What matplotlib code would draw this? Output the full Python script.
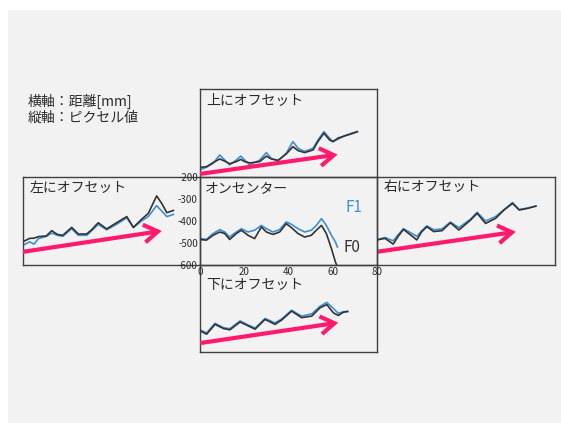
import matplotlib
matplotlib.use("Agg")
import matplotlib.pyplot as plt
from matplotlib.patches import Rectangle, FancyArrowPatch
import numpy as np

plt.rcParams['font.family'] = ['Noto Sans CJK JP', 'DejaVu Sans']
plt.rcParams['axes.unicode_minus'] = False

# ---------------- data ----------------
x_ticks = [0, 20, 40, 60, 80]
y_ticks = [-200, -300, -400, -500, -600]

# 上にオフセット
top_x = [0.6, 2.9, 5.9, 8.9, 11.2, 13.4, 16.4, 18.4, 20.2, 22.5, 27, 30, 32.2, 35.3, 39, 42, 44.3, 47.3, 51.1, 53.3, 56, 58.6, 60.1, 62.4, 65.4, 68.4, 71.1]
top_f1 = [-565, -556, -538, -500, -523, -545, -523, -505, -523, -545, -523, -489, -515, -527, -492, -439, -469, -484, -469, -432, -394, -424, -439, -428, -413, -401, -394]
top_f0 = [-556, -553, -535, -518, -528, -540, -530, -520, -530, -536, -530, -505, -518, -524, -495, -462, -480, -489, -477, -439, -401, -432, -439, -423, -413, -404, -394]

# 左にオフセット
left_x = [0, 3, 5, 7, 10.5, 13, 15.5, 18, 22, 25, 28.8, 31, 34, 37.8, 42.3, 46.9, 49.9, 53.6, 56.6, 60.4, 62.7, 65, 68]
left_f0 = [-494, -479, -478, -471, -468, -444, -461, -465, -429, -459, -459, -440, -408, -436, -408, -380, -429, -392, -366, -286, -320, -362, -352]
left_f1 = [-510, -495, -505, -480, -470, -455, -465, -470, -435, -465, -465, -445, -415, -440, -415, -385, -430, -400, -380, -330, -355, -380, -370]

# 右にオフセット
right_x = [0, 3.6, 7.3, 9.5, 11.9, 14.9, 17.9, 20, 22.4, 25.5, 29.2, 33, 36.8, 42, 45, 48.8, 53.3, 57.1, 60.9, 63.9, 67.6, 71.4]
right_f0 = [-486, -479, -505, -470, -438, -462, -486, -450, -426, -448, -444, -408, -441, -396, -365, -411, -388, -350, -320, -350, -343, -332]
right_f1 = [-485, -475, -490, -462, -435, -452, -470, -445, -422, -440, -436, -405, -430, -392, -360, -400, -380, -348, -316, -348, -341, -333]

# 下にオフセット
bottom_x = [0, 3, 6.8, 10.6, 13.5, 18.1, 21.8, 24.9, 29.4, 33.9, 36.9, 41.4, 45.9, 50.5, 54.2, 57.3, 60.3, 62.5, 64.8, 66.7]
bottom_f0 = [-503, -518, -473, -492, -498, -462, -480, -495, -450, -473, -453, -412, -442, -435, -397, -382, -420, -432, -417, -414]
bottom_f1 = [-498, -512, -468, -488, -493, -457, -476, -490, -446, -466, -448, -408, -435, -425, -390, -372, -400, -422, -415, -413]

# オンセンター
center_x = [0, 2.9, 5.9, 8.9, 11.2, 13.4, 16.4, 18.7, 21.7, 24.7, 27.7, 30, 33, 36, 39, 41.3, 44.3, 47.3, 50.3, 52.6, 54.9, 57.1, 59.4, 61.2, 62.1]
center_f1 = [-479, -484, -457, -439, -450, -473, -450, -435, -450, -442, -420, -435, -450, -439, -404, -415, -435, -450, -442, -420, -389, -420, -465, -495, -518]
center_f0 = [-484, -487, -465, -450, -457, -484, -457, -442, -465, -480, -427, -450, -461, -450, -412, -430, -457, -473, -465, -442, -420, -457, -525, -586, -609]

# arrows (start, tip) in data units
top_arrow = [(0, -586), (62.2, -498)]
left_arrow = [(0, -540), (62.7, -445)]
right_arrow = [(0, -540), (62.4, -449)]
bottom_arrow = [(0, -559), (62.5, -465)]

titles = {'top': '上にオフセット', 'left': '左にオフセット', 'center': 'オンセンター',
          'right': '右にオフセット', 'bottom': '下にオフセット'}
note_lines = ['横軸：距離[mm]', '縦軸：ピクセル値']

# ---------------- style ----------------
W, H = 561, 423
BLUE = '#3d8fd4'
BLACK = '#333333'
PINK = '#ff1a6e'
EDGE = '#404040'
TXT = '#2a2a2a'

fig = plt.figure(figsize=(W / 100, H / 100), dpi=100)
fig.patch.set_facecolor('white')
fig.add_artist(Rectangle((8 / W, 0), 1, (H - 10) / H, transform=fig.transFigure,
                         facecolor='#f2f2f2', edgecolor='none', zorder=-10))


def px_axes(x0, y0, x1, y1, z=1):
    ax = fig.add_axes([x0 / W, 1 - y1 / H, (x1 - x0) / W, (y1 - y0) / H], zorder=z)
    ax.set_facecolor('none')
    ax.set_xlim(0, 80)
    ax.set_ylim(-600, -200)
    for s in ax.spines.values():
        s.set_color(EDGE)
        s.set_linewidth(1.0)
    ax.set_xticks([])
    ax.set_yticks([])
    return ax


def draw(ax, x, f0, f1, arrow, title, ty, tx=0.035):
    ax.plot(x, f0, color=BLACK, lw=1.2, zorder=3, solid_joinstyle='round')
    ax.plot(x, f1, color=BLUE, lw=1.2, zorder=2, solid_joinstyle='round')
    if arrow is not None:
        a = FancyArrowPatch(arrow[0], arrow[1], arrowstyle='->,head_length=0.5,head_width=0.32',
                            mutation_scale=20, lw=3, color=PINK, shrinkA=0, shrinkB=0,
                            transform=ax.transData, zorder=4, capstyle='butt', joinstyle='miter')
        ax.add_patch(a)
    ax.text(tx, ty, title, transform=ax.transAxes, fontsize=10, color=TXT,
            ha='left', va='center')


ax_top = px_axes(200, 89, 377, 177)
ax_left = px_axes(23, 177, 200, 265)
ax_right = px_axes(377, 177, 555, 265)
ax_bottom = px_axes(200, 265, 377, 352)
ax_center = px_axes(200, 177, 377, 265, z=5)

draw(ax_top, top_x, top_f0, top_f1, top_arrow, titles['top'], 1 - 12 / 88)
draw(ax_left, left_x, left_f0, left_f1, left_arrow, titles['left'], 1 - 11 / 88)
draw(ax_right, right_x, right_f0, right_f1, right_arrow, titles['right'], 1 - 10 / 88)
draw(ax_bottom, bottom_x, bottom_f0, bottom_f1, bottom_arrow, titles['bottom'], 1 - 20 / 87)
draw(ax_center, center_x, center_f0, center_f1, None, titles['center'], 1 - 11 / 88, tx=0.025)

ax_center.set_xticks(x_ticks)
ax_center.set_yticks(y_ticks)
ax_center.tick_params(length=0, labelsize=7, pad=1.5, colors=TXT)

ax_center.text(0.82, 1 - 30 / 88, 'F1', transform=ax_center.transAxes, fontsize=11,
               color=BLUE, ha='left', va='center')
ax_center.text(0.81, 1 - 70 / 88, 'F0', transform=ax_center.transAxes, fontsize=11,
               color=BLACK, ha='left', va='center')

for i, line in enumerate(note_lines):
    fig.text(28 / W, 1 - (101 + 17 * i) / H, line, fontsize=10, color=TXT,
             ha='left', va='center')

fig.savefig('out.png', dpi=100, facecolor=fig.get_facecolor())
